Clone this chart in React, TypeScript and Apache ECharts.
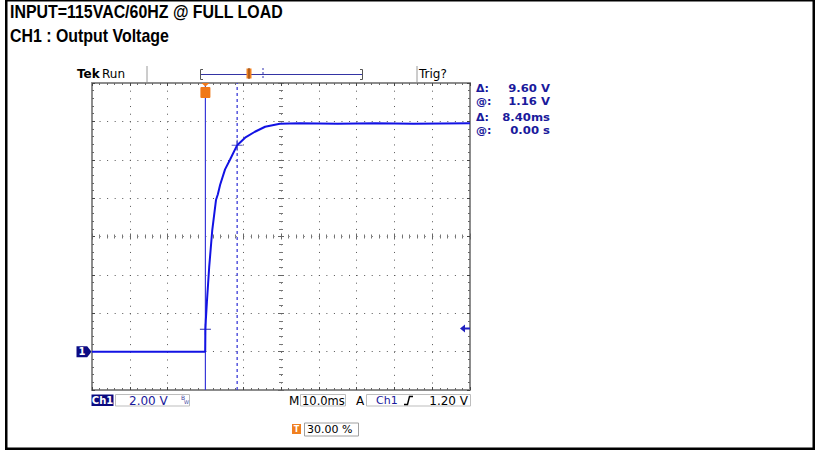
import React, { useEffect, useRef } from 'react';
import * as echarts from 'echarts';

// ---- data ----
const timeMs = [-30, -0.05, 0, 0.1, 0.4, 1.0, 1.8, 2.8, 3.3, 3.9, 5.2, 6.5, 8.4, 10.5, 13.1, 15.8, 19.7, 25, 35, 45, 55, 70];
const ch1Volts = [0.0, 0.0, 1.16, 1.6, 2.6, 4.4, 6.3, 7.9, 8.2, 8.7, 9.5, 10.0, 10.76, 11.15, 11.46, 11.72, 11.88, 11.9, 11.88, 11.9, 11.88, 11.9];
const cursorTimesMs = [0, 8.4];
const cursorVolts = [1.16, 10.76];
const triggerLevelV = 1.2;
const triggerTimeMs = 0;
const groundV = 0;
const xMin = -30, xMax = 70, xStep = 10;
const yMin = -2, yMax = 14, yStep = 2;
const titleLines = ['INPUT=115VAC/60HZ @ FULL LOAD', 'CH1 : Output Voltage'];
const readoutLabels = ['\u0394:', '@:', '\u0394:', '@:'];
const readoutValues = ['9.60 V', '1.16 V', '8.40ms', '0.00 s'];
const ch1Scale = '2.00 V';
const timeScale = '10.0ms';
const trigSource = 'Ch1';
const trigLevelText = '1.20 V';
const trigPosText = '30.00 %';

const FONT = 'DejaVu Sans';
const BLUE_TXT = '#1a1a9c';
const CURSOR_BLUE = '#3a3ad8';

const frameLine = { show: true, onZero: false, lineStyle: { color: '#8c8c8c', width: 2 } };
const noLine = { show: false, onZero: false };

function xAx(position: string, extra: any) {
  return {
    type: 'value', min: xMin, max: xMax, interval: xStep, position,
    axisLabel: { show: false },
    splitLine: { show: false },
    ...extra,
  };
}
function yAx(position: string, extra: any) {
  return {
    type: 'value', min: yMin, max: yMax, interval: yStep, position,
    axisLabel: { show: false },
    splitLine: { show: false },
    ...extra,
  };
}
const frameTicks = {
  axisTick: { show: true, inside: true, length: 3, lineStyle: { color: '#444' } },
  minorTick: { show: true, splitNumber: 5, length: 2, lineStyle: { color: '#666' } },
};
const centerTicks = (inside: boolean) => ({
  axisTick: { show: true, inside, length: 3, lineStyle: { color: '#666' } },
  minorTick: { show: true, splitNumber: 5, length: 2, lineStyle: { color: '#777' } },
});

const plusPath = 'path://M0,5H4.5V0H5.5V5H10V6H5.5V11H4.5V6H0Z';

function txt(x: number, y: number, text: string, o: any = {}) {
  return {
    type: 'text', x, y, scaleX: o.scaleX ?? 1, z: 10,
    style: {
      text, fontSize: o.size ?? 12, fontFamily: o.family ?? FONT, fontWeight: o.weight ?? 'normal',
      fill: o.color ?? '#000', align: o.align ?? 'left', verticalAlign: 'middle',
    },
  };
}
function box(x: number, y: number, w: number, h: number, fill: string, stroke?: string) {
  return { type: 'rect', z: 9, shape: { x, y, width: w, height: h }, style: { fill, stroke: stroke ?? null, lineWidth: 1 } };
}
function ln(x1: number, y1: number, x2: number, y2: number, color: string, w = 1, dash?: number[]) {
  return { type: 'line', z: 9, shape: { x1, y1, x2, y2 }, style: { stroke: color, lineWidth: w, lineDash: dash ?? null } };
}

const readoutYs = [88, 101, 117, 130];

const graphic: any[] = [
  // outer frame
  box(5, 0, 810, 1.5, '#000'),
  box(5, 0, 2.5, 450, '#000'),
  box(812.5, 0, 2.5, 450, '#000'),
  box(5, 447.5, 810, 2.5, '#000'),
  // titles
  txt(10, 12, titleLines[0], { size: 17.5, family: 'Liberation Sans, Arial, sans-serif', weight: 'bold', scaleX: 0.91 }),
  txt(10, 36, titleLines[1], { size: 17.5, family: 'Liberation Sans, Arial, sans-serif', weight: 'bold', scaleX: 0.91 }),
  // header
  txt(77, 74, 'Tek', { weight: 'bold' }),
  txt(102, 74, 'Run'),
  ln(147, 66, 147, 82, '#9a9a9a'),
  ln(417, 66, 417, 82, '#9a9a9a'),
  txt(419, 74, 'Trig?'),
  ln(200, 74.5, 363, 74.5, '#3434a4'),
  { type: 'polyline', z: 9, shape: { points: [[203, 69.5], [200.5, 69.5], [200.5, 79.5], [203, 79.5]] }, style: { stroke: '#555', fill: null, lineWidth: 1 } },
  { type: 'polyline', z: 9, shape: { points: [[360, 69.5], [362.5, 69.5], [362.5, 79.5], [360, 79.5]] }, style: { stroke: '#555', fill: null, lineWidth: 1 } },
  box(246.5, 68.5, 5, 10, '#f08020'),
  ln(249, 68, 249, 79, '#7a3a10'),
  ln(263, 68, 263, 80, '#3030b0', 1, [2, 2]),
  // readouts
  ...readoutLabels.map((l, i) => txt(476, readoutYs[i], l, { weight: 'bold', color: BLUE_TXT, size: 11 })),
  ...readoutValues.map((v, i) => txt(550, readoutYs[i], v, { weight: 'bold', color: BLUE_TXT, align: 'right', size: 11, scaleX: 1.06 })),
  // bottom status bar
  box(91.5, 394.5, 22, 11.5, '#0a0a80'),
  txt(102.5, 400.5, 'Ch1', { weight: 'bold', color: '#fff', size: 10, align: 'center' }),
  box(115.5, 394.5, 74, 11.5, 'none', '#bdbdbd'),
  txt(129, 400.5, ch1Scale, { color: BLUE_TXT }),
  txt(181, 397.5, 'B', { size: 6, color: '#4040a0' }),
  txt(184, 402, 'W', { size: 5, color: '#4040a0' }),
  txt(289, 400.5, 'M'),
  box(300.5, 394.5, 45, 11.5, 'none', '#bdbdbd'),
  txt(302, 400.5, timeScale, { size: 11.5 }),
  txt(356, 400.5, 'A'),
  box(366.5, 394.5, 104, 11.5, 'none', '#bdbdbd'),
  txt(376, 400.5, trigSource, { color: BLUE_TXT, size: 11 }),
  { type: 'polyline', z: 10, shape: { points: [[404, 404.5], [407.5, 404.5], [409.5, 396.5], [413, 396.5]] }, style: { stroke: '#000', fill: null, lineWidth: 1.4 } },
  txt(468, 400.5, trigLevelText, { align: 'right' }),
  // trigger position
  box(292, 424, 9, 10, '#f08020'),
  txt(296.5, 429.5, 'T', { size: 8, weight: 'bold', color: '#fff', align: 'center' }),
  box(304.5, 423, 54, 13, 'none', '#a0a0a0'),
  txt(307, 429.5, trigPosText, { size: 11 }),
];

const cursorSeries = (t: number, dashed: boolean) => ({
  type: 'line',
  xAxisIndex: 0,
  yAxisIndex: 0,
  silent: true,
  symbol: 'none',
  z: 4,
  data: [[t, yMin], [t, yMax]],
  lineStyle: { color: CURSOR_BLUE, width: dashed ? 1.3 : 1.2, type: dashed ? [3, 3] : 'solid' },
  itemStyle: { color: CURSOR_BLUE },
});

const option: any = {
  animation: false,
  backgroundColor: '#ffffff',
  grid: { left: 92, top: 83, width: 378, height: 307, show: false },
  xAxis: [
    xAx('bottom', { axisLine: frameLine, ...frameTicks,
      splitLine: { show: true, lineStyle: { color: '#555', width: 1, type: [1, 6.68] } } }),
    xAx('top', { axisLine: frameLine, ...frameTicks }),
    xAx('bottom', { offset: -153.5, axisLine: noLine, ...centerTicks(false) }),
    xAx('bottom', { offset: -153.5, axisLine: noLine, ...centerTicks(true) }),
  ],
  yAxis: [
    yAx('left', { axisLine: frameLine, ...frameTicks,
      splitLine: { show: true, lineStyle: { color: '#555', width: 1, type: [1, 6.56] } } }),
    yAx('right', { axisLine: frameLine, ...frameTicks }),
    yAx('left', { offset: -189, axisLine: noLine, ...centerTicks(false) }),
    yAx('left', { offset: -189, axisLine: noLine, ...centerTicks(true) }),
  ],
  series: [
    cursorSeries(cursorTimesMs[0], false),
    cursorSeries(cursorTimesMs[1], true),
    {
      type: 'line',
      xAxisIndex: 0,
      yAxisIndex: 0,
      data: timeMs.map((t, i) => [t, ch1Volts[i]]),
      showSymbol: false,
      symbol: 'none',
      lineStyle: { color: '#1212e4', width: 2 },
      itemStyle: { color: '#1212e4' },
      z: 5,
      markPoint: {
        silent: true,
        label: { show: false },
        data: [
          { coord: [cursorTimesMs[0], cursorVolts[0]], symbol: plusPath, symbolSize: [11, 11], itemStyle: { color: '#3030b0' } },
          { coord: [cursorTimesMs[1], cursorVolts[1]], symbol: plusPath, symbolSize: [11, 11], itemStyle: { color: '#5a5ac4' } },
          {
            coord: [xMin, groundV], symbol: 'path://M0,0H10L14,5.5L10,11H0Z', symbolSize: [15, 11], symbolOffset: [-8, 0],
            itemStyle: { color: '#0c0c84' },
            label: { show: true, formatter: '1', color: '#fff', fontWeight: 'bold', fontSize: 10, fontFamily: FONT, position: 'inside', offset: [-2, 0] },
          },
          {
            coord: [xMax, triggerLevelV], symbol: 'path://M0,4L5,0V3H10V5H5V8Z', symbolSize: [10, 8], symbolOffset: [-5, 0],
            itemStyle: { color: '#2020c0' },
          },
          {
            coord: [triggerTimeMs, yMax], symbol: 'path://M1,0H9L5,3.5Z M1,4H9Q10,4 10,5V14Q10,15 9,15H1Q0,15 0,14V5Q0,4 1,4Z',
            symbolSize: [10, 15], symbolOffset: [0, 7.5], itemStyle: { color: '#f07818' },
          },
        ],
      },
    },
  ],
  graphic,
};

export default function App() {
  const ref = useRef<HTMLDivElement>(null);
  useEffect(() => {
    const chart = echarts.init(ref.current as HTMLDivElement, null, { renderer: 'svg', width: 815, height: 450 });
    chart.setOption(option);
    return () => chart.dispose();
  }, []);
  return <div ref={ref} style={{ position: 'fixed', left: 0, top: 0, width: 815, height: 450, background: '#fff' }} />;
}
